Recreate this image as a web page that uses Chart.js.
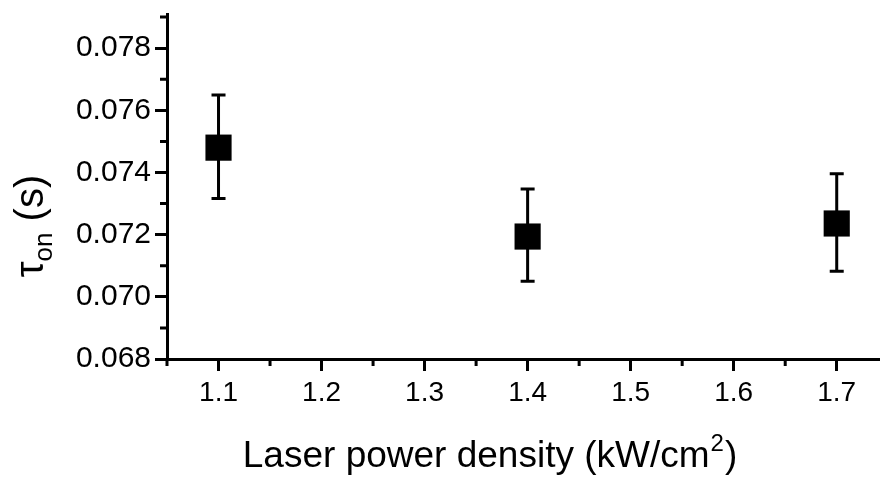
<!DOCTYPE html>
<html>
<head>
<meta charset="utf-8">
<script src="https://cdn.jsdelivr.net/npm/chart.js@4.4.1/dist/chart.umd.min.js"></script>
<style>
  html, body { margin: 0; padding: 0; background: #fff; }
  #wrap { width: 880px; height: 479px; }
</style>
</head>
<body>
<div id="wrap"><canvas id="tauChart"></canvas></div>
<script>
// Data
const powerDensity = [1.1, 1.4, 1.7];
const tauOn = [0.07480, 0.07194, 0.07236];
const tauErrHigh = [0.07649, 0.07347, 0.07396];
const tauErrLow = [0.07316, 0.07050, 0.07082];

const xMajorTicks = [1.1, 1.2, 1.3, 1.4, 1.5, 1.6, 1.7];
const xMinorTicks = [1.05, 1.15, 1.25, 1.35, 1.45, 1.55, 1.65];
const yMajorTicks = [0.068, 0.070, 0.072, 0.074, 0.076, 0.078];
const yMinorTicks = [0.069, 0.071, 0.073, 0.075, 0.077, 0.079];

const FONT = '"Liberation Sans", Arial, sans-serif';

// error bars + minor ticks + axis titles
const extrasPlugin = {
  id: 'extras',
  afterDatasetsDraw(chart) {
    const ctx = chart.ctx;
    const xs = chart.scales.x, ys = chart.scales.y;
    ctx.save();
    ctx.strokeStyle = '#000';
    ctx.lineWidth = 3;
    ctx.lineCap = 'butt';
    powerDensity.forEach((p, i) => {
      const px = xs.getPixelForValue(p);
      const top = ys.getPixelForValue(tauErrHigh[i]);
      const bot = ys.getPixelForValue(tauErrLow[i]);
      ctx.beginPath();
      ctx.moveTo(px, top); ctx.lineTo(px, bot);
      ctx.moveTo(px - 7, top); ctx.lineTo(px + 7, top);
      ctx.moveTo(px - 7, bot); ctx.lineTo(px + 7, bot);
      ctx.stroke();
    });
    ctx.restore();
  },
  afterDraw(chart) {
    const ctx = chart.ctx;
    const xs = chart.scales.x, ys = chart.scales.y;
    const area = chart.chartArea;
    ctx.save();
    ctx.strokeStyle = '#000';
    ctx.lineWidth = 3;
    // minor ticks
    ctx.beginPath();
    xMinorTicks.forEach(v => {
      const px = xs.getPixelForValue(v);
      ctx.moveTo(px, area.bottom); ctx.lineTo(px, area.bottom + 7);
    });
    yMinorTicks.forEach(v => {
      const py = ys.getPixelForValue(v);
      ctx.moveTo(area.left, py); ctx.lineTo(area.left - 7, py);
    });
    ctx.stroke();

    // x title with superscript
    ctx.fillStyle = '#000';
    ctx.textBaseline = 'alphabetic';
    ctx.textAlign = 'left';
    const part1 = 'Laser power density (kW/cm';
    const sup = '2';
    const part3 = ')';
    ctx.font = '37px ' + FONT;
    const w1 = ctx.measureText(part1).width;
    ctx.font = '24px ' + FONT;
    const w2 = ctx.measureText(sup).width;
    ctx.font = '37px ' + FONT;
    const w3 = ctx.measureText(part3).width;
    const total = w1 + w2 + w3;
    let tx = 489 - total / 2;
    const ty = 467;
    ctx.fillText(part1, tx, ty);
    ctx.font = '24px ' + FONT;
    ctx.fillText(sup, tx + w1 + 1, ty - 16);
    ctx.font = '37px ' + FONT;
    ctx.fillText(part3, tx + w1 + w2 + 2, ty);

    // y title: tau with subscript "on", rotated
    ctx.translate(43, 226);
    ctx.rotate(-Math.PI / 2);
    ctx.font = '40px ' + FONT;
    const a = 'τ';
    const wa = ctx.measureText(a).width;
    ctx.font = '26px ' + FONT;
    const b = 'on';
    const wb = ctx.measureText(b).width;
    ctx.font = '40px ' + FONT;
    const c = ' (s)';
    const wc = ctx.measureText(c).width;
    let sx = -(wa + wb + wc) / 2;
    ctx.font = '40px ' + FONT;
    ctx.fillText(a, sx, 0);
    ctx.font = '26px ' + FONT;
    ctx.fillText(b, sx + wa, 9);
    ctx.font = '40px ' + FONT;
    ctx.fillText(c, sx + wa + wb, 0);
    ctx.restore();
  }
};

new Chart(document.getElementById('tauChart'), {
  type: 'scatter',
  data: {
    datasets: [{
      data: powerDensity.map((p, i) => ({ x: p, y: tauOn[i] })),
      pointStyle: 'rect',
      pointRadius: 18.5,
      pointHoverRadius: 18.5,
      backgroundColor: '#000',
      borderColor: '#000',
      borderWidth: 0
    }]
  },
  options: {
    responsive: true,
    maintainAspectRatio: false,
    animation: false,
    layout: { autoPadding: false, padding: { top: 14, right: 0, left: 0, bottom: 0 } },
    plugins: {
      legend: { display: false },
      tooltip: { enabled: false }
    },
    scales: {
      x: {
        type: 'linear',
        min: 1.05,
        max: 1.742,
        afterBuildTicks: s => { s.ticks = xMajorTicks.map(v => ({ value: v })); },
        afterFit: s => { s.height = 120; s.paddingLeft = 0; s.paddingRight = 0; },
        border: { display: true, color: '#000', width: 3 },
        grid: { drawOnChartArea: false, drawTicks: true, tickLength: 12, tickColor: '#000', tickWidth: 3 },
        ticks: {
          color: '#000',
          padding: 5,
          maxRotation: 0,
          font: { family: FONT, size: 28 },
          callback: v => v.toFixed(1)
        }
      },
      y: {
        type: 'linear',
        min: 0.068,
        max: 0.0791,
        afterBuildTicks: s => { s.ticks = yMajorTicks.map(v => ({ value: v })); },
        afterFit: s => { s.width = 167; s.paddingTop = 0; s.paddingBottom = 0; },
        border: { display: true, color: '#000', width: 3 },
        grid: { drawOnChartArea: false, drawTicks: true, tickLength: 12, tickColor: '#000', tickWidth: 3 },
        ticks: {
          color: '#000',
          padding: 4,
          font: { family: FONT, size: 30 },
          callback: v => v.toFixed(3)
        }
      }
    }
  },
  plugins: [extrasPlugin]
});
</script>
</body>
</html>
